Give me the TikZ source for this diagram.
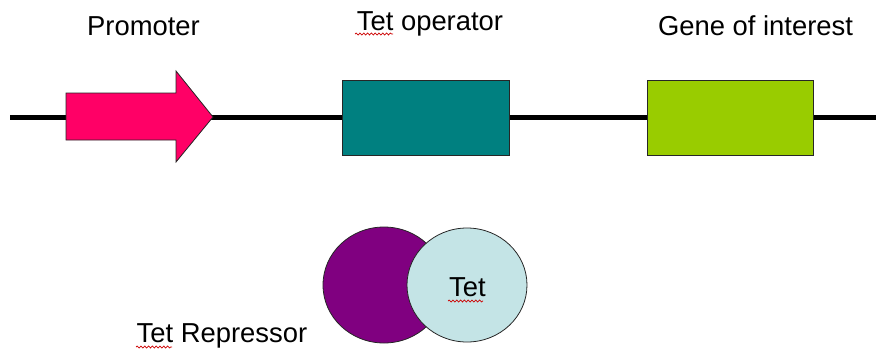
\documentclass[tikz,border=0pt]{standalone}
\usepackage{fontspec}
\setmainfont{Liberation Sans}
\usetikzlibrary{decorations.pathmorphing}
\definecolor{promcol}{HTML}{FF0066}
\definecolor{opcol}{HTML}{008080}
\definecolor{genecol}{HTML}{99CC00}
\definecolor{repcol}{HTML}{800080}
\definecolor{tetcol}{HTML}{C4E4E6}
\tikzset{
  lbl/.style={font=\fontsize{27.4}{31}\selectfont, anchor=base, inner sep=0pt},
  elem/.style={draw=black!85, line width=0.8pt, inner sep=0pt},
  dna/.style={line width=5.5pt, black},
  squig/.style={red!80!black, line width=0.7pt, decorate, decoration={snake, amplitude=1pt, segment length=3.8pt}}
}
\begin{document}
\begin{tikzpicture}[x=1pt,y=-1pt]
\useasboundingbox (0,0) rectangle (876,349);
% DNA line
\coordinate (dnaL) at (10,117.5);
\coordinate (dnaR) at (876,117.5);
\draw[dna] (dnaL) -- (dnaR);
% promoter arrow
\draw[elem, fill=promcol] (66,93) -- (176,93) -- (176,71) -- (213,117) -- (176,162) -- (176,140) -- (66,140) -- cycle;
% operator and gene boxes
\node[elem, fill=opcol, minimum width=167pt, minimum height=75pt] (op) at (425.5,117.5) {};
\node[elem, fill=genecol, minimum width=166pt, minimum height=75pt] (gene) at (730,117.5) {};
% labels
\node[lbl] (lprom) at (143.5,35) {Promoter};
\node[lbl] (lop) at (430,30) {Tet operator};
\node[lbl] (lgene) at (755.5,35) {Gene of interest};
% repressor
\draw[elem, fill=repcol] (384,285) ellipse [x radius=61, y radius=58];
\draw[elem, fill=tetcol] (467,285) ellipse [x radius=60, y radius=57];
\node[lbl] (ltet) at (467.5,296) {Tet};
\node[lbl] (lrep) at (222,342) {Tet Repressor};
% spell-check squiggles
\draw[squig] (355,34) -- (393,34);
\draw[squig] (448,301) -- (483,301);
\draw[squig] (136,347) -- (172,347);
\end{tikzpicture}
\end{document}
